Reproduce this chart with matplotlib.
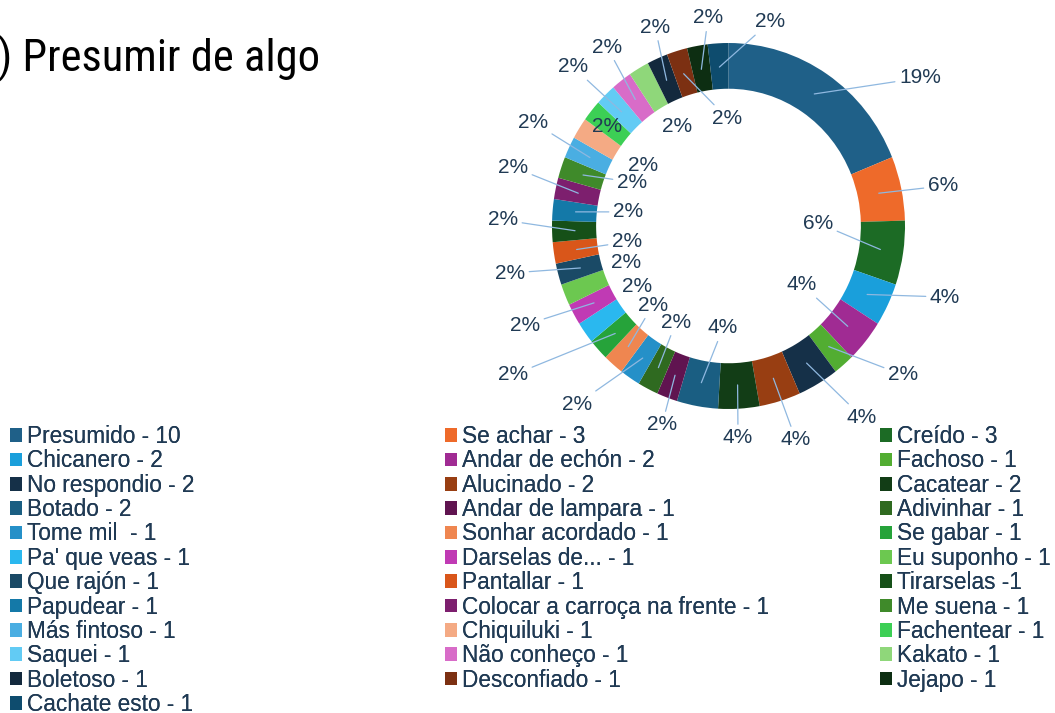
import matplotlib
matplotlib.use("Agg")
import matplotlib.pyplot as plt
from matplotlib import font_manager
import numpy as np

# answers (legend text as shown) and counts, in the order the ring is drawn
labels = [
    "Presumido - 10", "Se achar - 3", "Creído - 3",
    "Chicanero - 2", "Andar de echón - 2", "Fachoso - 1",
    "No respondio - 2", "Alucinado - 2", "Cacatear - 2",
    "Botado - 2", "Andar de lampara - 1", "Adivinhar - 1",
    "Tome mil  - 1", "Sonhar acordado - 1", "Se gabar - 1",
    "Pa' que veas - 1", "Darselas de... - 1", "Eu suponho - 1",
    "Que rajón - 1", "Pantallar - 1", "Tirarselas -1",
    "Papudear - 1", "Colocar a carroça na frente - 1", "Me suena - 1",
    "Más fintoso - 1", "Chiquiluki - 1", "Fachentear - 1",
    "Saquei - 1", "Não conheço - 1", "Kakato - 1",
    "Boletoso - 1", "Desconfiado - 1", "Jejapo - 1",
    "Cachate esto - 1",
]
counts = [10, 3, 3, 2, 2, 1, 2, 2, 2, 2, 1, 1, 1, 1, 1, 1, 1, 1,
          1, 1, 1, 1, 1, 1, 1, 1, 1, 1, 1, 1, 1, 1, 1, 1]
colors = [
    "#1f6088", "#ee6a2a", "#1c6b25",
    "#1a9fdb", "#a02b93", "#52ad32",
    "#153048", "#983e12", "#123d16",
    "#1a5e82", "#601450", "#2f6a20",
    "#2590c8", "#ef8650", "#26a33a",
    "#2ab8ef", "#c03ab4", "#6cc850",
    "#1a4a66", "#d9561a", "#165018",
    "#1479a8", "#7d1f6e", "#3f8a2a",
    "#4aaee2", "#f4aa84", "#3ccf55",
    "#62cbf4", "#d86cc8", "#8fd77a",
    "#13293d", "#7c3012", "#0d2e12",
    "#0e4c6e",
]

# where Excel put each percentage (ring-radius units from the centre) and
# whether it drew a leader line to the slice
LABEL_XY = [
    (1.085, 0.809), (1.215, 0.219), (0.507, 0.016), (1.227, -0.388),
    (0.416, -0.322), (0.989, -0.814), (0.756, -1.044), (0.382, -1.169),
    (0.054, -1.158), (-0.031, -0.557), (-0.377, -1.087), (-0.297, -0.525),
    (-0.858, -0.973), (-0.428, -0.432), (-1.221, -0.814), (-0.518, -0.333),
    (-1.153, -0.541), (-0.581, -0.202), (-1.238, -0.257), (-0.575, -0.087),
    (-1.278, 0.033), (-0.569, 0.077), (-1.221, 0.322), (-0.547, 0.240),
    (-1.108, 0.568), (-0.484, 0.333), (-0.688, 0.541), (-0.881, 0.869),
    (-0.688, 0.978), (-0.292, 0.541), (-0.416, 1.087), (-0.008, 0.590),
    (-0.116, 1.137), (0.235, 1.115),
]
LEADER = [True] * 34
for i in (15, 17, 25, 26, 29):
    LEADER[i] = False

TEXT = "#203a54"
LINE = "#8fb8e0"
W, H = 1055, 713
CX, CY, RX, RY = 728.5, 226.0, 176.5, 183.0   # ring centre / radii in pixels


def pick(fams):
    for f in fams:
        try:
            font_manager.findfont(f, fallback_to_default=False)
            return f
        except ValueError:
            pass
    return "DejaVu Sans"


SANS = pick(["Liberation Sans", "Arimo", "DejaVu Sans"])
NARROW = pick(["Liberation Sans Narrow", "Roboto Condensed", "Liberation Sans"])

fig = plt.figure(figsize=(W / 100, H / 100), dpi=100)
ax = fig.add_axes([0, 0, 1, 1])
wedges, _ = ax.pie(counts, colors=colors, startangle=90, counterclock=False,
                   radius=1.0, wedgeprops=dict(width=0.25, linewidth=0))
ax.set_aspect("auto")
ax.set_xlim(-CX / RX, (W - CX) / RX)
ax.set_ylim((CY - H) / RY, CY / RY)
ax.axis("off")

total = sum(counts)
for i, (w, c) in enumerate(zip(wedges, counts)):
    mid = np.deg2rad((w.theta1 + w.theta2) / 2)
    xy = (0.87 * np.cos(mid), 0.87 * np.sin(mid))
    txt = f"{round(c / total * 100)}%"
    if LEADER[i]:
        ax.annotate(txt, xy=xy, xytext=LABEL_XY[i], ha="center", va="center",
                    fontsize=15, color=TEXT, family=SANS,
                    arrowprops=dict(arrowstyle="-", color=LINE, lw=0.9,
                                    shrinkA=1, shrinkB=0))
    else:
        ax.text(*LABEL_XY[i], txt, ha="center", va="center",
                fontsize=15, color=TEXT, family=SANS)

fig.text(-2 / W, 1 - 72 / H, ") Presumir de algo", va="baseline", ha="left",
         fontsize=32, family=NARROW, color="black")

# legend: three columns, filled row by row like Excel
for col, x0 in enumerate((10, 445, 880)):
    idx = list(range(col, len(labels), 3))
    leg = fig.legend([wedges[i] for i in idx], [labels[i] for i in idx],
                     loc="upper left", bbox_to_anchor=(x0 / W, 1 - 425 / H),
                     frameon=False, ncol=1, borderpad=0,
                     borderaxespad=0, handlelength=0.55, handleheight=0.55,
                     handletextpad=0.22, labelspacing=0.06,
                     prop=dict(family=SANS, size=16.3))
    for t in leg.get_texts():
        t.set_color(TEXT)
    fig.add_artist(leg)

fig.savefig("out.png", dpi=100)
